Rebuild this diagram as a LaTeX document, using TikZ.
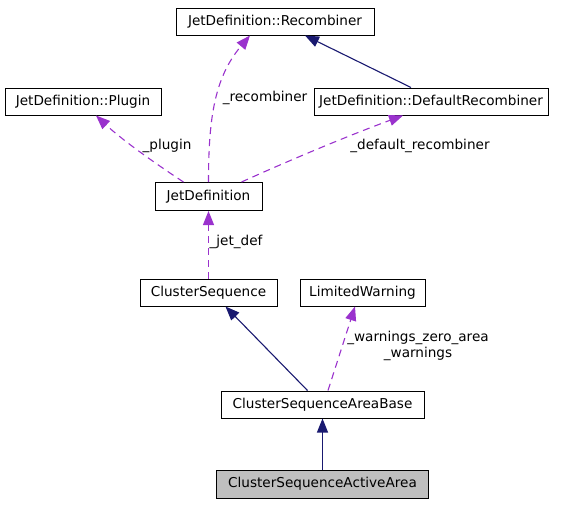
\documentclass[tikz,border=0pt]{standalone}
\usepackage{fontspec}
\setmainfont{DejaVu Sans}
\usetikzlibrary{arrows.meta,calc}
\definecolor{navy}{HTML}{191970}
\definecolor{orchid}{HTML}{9A32CD}
\definecolor{boxgray}{HTML}{BFBFBF}
\tikzset{
  cls/.style={draw=black, line width=1pt, inner sep=0pt, font=\fontsize{13.6}{15}\selectfont, fill=white},
  inherit/.style={draw=navy, line width=1.1pt, -{Triangle[length=14pt,width=11pt]}},
  usage/.style={draw=orchid, line width=1.1pt, dash pattern=on 7pt off 5pt, -{Triangle[length=14pt,width=11pt]}},
  lbl/.style={inner sep=0pt, font=\fontsize{13.6}{16}\selectfont, align=center}
}
\begin{document}
\begin{tikzpicture}[x=1pt,y=-1pt]
\useasboundingbox (0,0) rectangle (568,504);
\node[cls, minimum width=198pt, minimum height=27pt] (rec) at (275,21.5) {JetDefinition::Recombiner};
\node[cls, minimum width=156pt, minimum height=27pt] (plug) at (83,101.5) {JetDefinition::Plugin};
\node[cls, minimum width=234pt, minimum height=27pt] (defrec) at (431,101.5) {JetDefinition::DefaultRecombiner};
\node[cls, minimum width=107pt, minimum height=28pt] (jetdef) at (208.5,196.5) {JetDefinition};
\node[cls, minimum width=137pt, minimum height=27pt] (cs) at (208.5,292.5) {ClusterSequence};
\node[cls, minimum width=125pt, minimum height=27pt] (lw) at (362.5,292.5) {LimitedWarning};
\node[cls, minimum width=203pt, minimum height=27pt] (csab) at (322.5,404.5) {ClusterSequenceAreaBase};
\node[cls, minimum width=212pt, minimum height=28pt, fill=boxgray] (csaa) at (322.5,484) {ClusterSequenceActiveArea};

% inheritance
\draw[inherit] ([xshift=-20pt]defrec.north) -- ([xshift=30pt]rec.south);
\draw[inherit] ([xshift=-15pt]csab.north) -- ([xshift=17pt]cs.south);
\draw[inherit] (csaa.north) -- (csab.south);

% usage
\draw[usage] (jetdef.north) .. controls (208.5,120) and (214,78) .. ([xshift=-25pt]rec.south);
\draw[usage] ([xshift=-25pt]jetdef.north) .. controls (150,160) and (120,138) .. ([xshift=13pt]plug.south);
\draw[usage] ([xshift=33pt]jetdef.north) .. controls (290,160) and (350,135) .. ([xshift=-28pt]defrec.south);
\draw[usage] (cs.north) -- (jetdef.south);
\draw[usage] ([xshift=5.5pt]csab.north) -- ([xshift=-7.5pt]lw.south);

% labels
\node[lbl] (lrec) at (265,98) {\_recombiner};
\node[lbl] (lplug) at (167,146) {\_plugin};
\node[lbl] (ldef) at (420,146) {\_default\_recombiner};
\node[lbl] (ljet) at (236,242) {\_jet\_def};
\node[lbl] (lwarn) at (418,346) {\_warnings\_zero\_area\\\_warnings};
\end{tikzpicture}
\end{document}
